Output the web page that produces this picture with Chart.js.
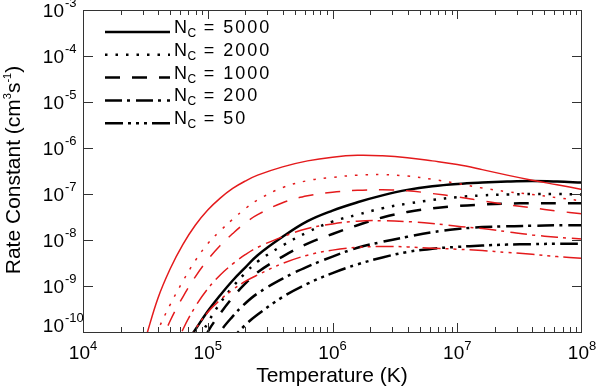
<!DOCTYPE html>
<html>
<head>
<meta charset="utf-8">
<script src="https://cdn.jsdelivr.net/npm/chart.js@4.4.1/dist/chart.umd.min.js"></script>
<style>
  html, body { margin: 0; padding: 0; background: #fff; }
  canvas { display: block; }
</style>
</head>
<body>
<canvas id="myChart" width="600" height="387"></canvas>
<script>
// log10 of temperature (K), shared grid for all curves
const logT = [4.4, 4.5, 4.6, 4.7, 4.8, 4.9, 5.0, 5.1, 5.2, 5.3, 5.4, 5.6, 5.8, 6.0, 6.2, 6.4, 6.6, 6.8, 7.0, 7.2, 7.4, 7.6, 7.8, 8.0];

// log10 of rate constant (cm^3 s^-1), black curves
const black5000 = [null, null, null, null, -10.35, -9.95, -9.55, -9.20, -8.88, -8.60, -8.33, -7.93, -7.59, -7.36, -7.18, -7.03, -6.91, -6.83, -6.78, -6.75, -6.73, -6.72, -6.73, -6.75];
const black2000 = [null, null, null, null, null, -10.3, -9.80, -9.37, -9.02, -8.72, -8.47, -8.12, -7.83, -7.60, -7.45, -7.31, -7.21, -7.13, -7.07, -7.03, -7.01, -7.00, -7.00, -7.01];
const black1000 = [null, null, null, null, null, -10.6, -10.0, -9.60, -9.25, -8.95, -8.70, -8.36, -8.08, -7.87, -7.68, -7.51, -7.39, -7.31, -7.26, -7.23, -7.21, -7.20, -7.20, -7.20];
const black200 = [null, null, null, null, null, null, -10.5, -10.0, -9.66, -9.38, -9.16, -8.84, -8.58, -8.36, -8.17, -8.04, -7.93, -7.83, -7.76, -7.72, -7.70, -7.69, -7.68, -7.68];
const black50 = [null, null, null, null, null, null, null, -10.6, -10.15, -9.85, -9.62, -9.24, -8.95, -8.72, -8.53, -8.38, -8.26, -8.19, -8.15, -8.12, -8.10, -8.09, -8.08, -8.08];

// red curves
const red5000 = [-11.0, -10.15, -9.27, -8.62, -8.10, -7.68, -7.35, -7.09, -6.88, -6.72, -6.59, -6.41, -6.28, -6.20, -6.16, -6.17, -6.21, -6.28, -6.36, -6.47, -6.59, -6.70, -6.80, -6.90];
const red2000 = [null, -10.7, -9.97, -9.40, -8.90, -8.45, -8.08, -7.80, -7.55, -7.32, -7.13, -6.86, -6.71, -6.64, -6.59, -6.58, -6.61, -6.68, -6.77, -6.87, -6.95, -7.01, -7.08, -7.15];
const red1000 = [null, null, -10.4, -9.75, -9.24, -8.80, -8.43, -8.12, -7.86, -7.63, -7.45, -7.19, -7.04, -6.96, -6.92, -6.91, -6.93, -6.99, -7.06, -7.15, -7.23, -7.30, -7.37, -7.43];
const red200 = [null, null, null, -10.6, -9.95, -9.45, -9.06, -8.76, -8.52, -8.32, -8.16, -7.93, -7.75, -7.65, -7.59, -7.58, -7.60, -7.64, -7.70, -7.75, -7.82, -7.89, -7.94, -7.98];
const red50 = [null, null, null, null, -10.5, -9.95, -9.57, -9.30, -9.08, -8.90, -8.76, -8.51, -8.33, -8.22, -8.16, -8.14, -8.15, -8.18, -8.20, -8.23, -8.27, -8.31, -8.36, -8.40];

const legendLabels = ['5000', '2000', '1000', '200', '50'];
const xTickExps = [4, 5, 6, 7, 8];
const yTickExps = [-3, -4, -5, -6, -7, -8, -9, -10];

const FONT = "'Liberation Sans', Arial, sans-serif";
const dashes = [[], [2.5, 8], [15, 12], [17, 5, 3, 6], [18, 5, 3, 5, 3, 5, 3, 5]];

function toPoints(vals) {
    return logT.map((t, i) => vals[i] == null ? null : { x: Math.pow(10, t), y: Math.pow(10, vals[i]) })
        .filter(p => p !== null);
}

function makeSet(vals, i, color, width) {
    return {
        data: toPoints(vals),
        borderColor: color,
        borderWidth: width,
        borderDash: dashes[i],
        borderCapStyle: 'butt',
        pointRadius: 0,
        fill: false,
        tension: 0.4
    };
}

const redSeries = [red5000, red2000, red1000, red200, red50];
const blackSeries = [black5000, black2000, black1000, black200, black50];

const datasets = [];
redSeries.forEach((s, i) => datasets.push(makeSet(s, i, '#e41a1c', 1.5)));
blackSeries.forEach((s, i) => datasets.push(makeSet(s, i, '#000', 2.5)));

// draw a row of text pieces (for super/subscripts)
function drawRuns(ctx, runs, x, y, align) {
    let w = 0;
    runs.forEach(r => {
        ctx.font = r.size + 'px ' + FONT;
        ctx.letterSpacing = (r.ls || 0) + 'px';
        r.w = ctx.measureText(r.t).width;
        w += r.w;
    });
    let cx = align === 'center' ? x - w / 2 : (align === 'right' ? x - w : x);
    ctx.textAlign = 'left';
    ctx.textBaseline = 'alphabetic';
    runs.forEach(r => {
        ctx.font = r.size + 'px ' + FONT;
        ctx.letterSpacing = (r.ls || 0) + 'px';
        ctx.fillText(r.t, cx, y + (r.dy || 0));
        cx += r.w;
    });
    ctx.letterSpacing = '0px';
}

const frame = {
    id: 'frame',
    afterDraw(chart) {
        const ctx = chart.ctx;
        const a = chart.chartArea;
        const xs = chart.scales.x, ys = chart.scales.y;
        ctx.save();
        ctx.strokeStyle = '#333';
        ctx.lineWidth = 1;
        ctx.strokeRect(a.left + 0.5, a.top + 0.5, a.right - a.left - 1, a.bottom - a.top);

        ctx.beginPath();
        // x ticks (major + minor) on bottom and top
        for (let e = 4; e < 8; e++) {
            for (let m = 1; m < 10; m++) {
                const px = Math.round(xs.getPixelForValue(m * Math.pow(10, e))) + 0.5;
                const len = m === 1 ? 9 : 5;
                ctx.moveTo(px, a.bottom); ctx.lineTo(px, a.bottom - len);
                ctx.moveTo(px, a.top); ctx.lineTo(px, a.top + len);
            }
        }
        // y major ticks on left and right
        yTickExps.forEach(e => {
            const py = Math.round(ys.getPixelForValue(Math.pow(10, e))) + 0.5;
            ctx.moveTo(a.left, py); ctx.lineTo(a.left + 10, py);
            ctx.moveTo(a.right, py); ctx.lineTo(a.right - 10, py);
        });
        ctx.stroke();

        ctx.fillStyle = '#000';
        // y tick labels
        yTickExps.forEach(e => {
            let py = ys.getPixelForValue(Math.pow(10, e)) + 7;
            if (py > a.bottom) py = a.bottom;
            drawRuns(ctx, [{ t: '10', size: 19 }], 64, py, 'right');
            drawRuns(ctx, [{ t: String(e), size: 13 }], 65, py - 10, 'left');
        });
        // x tick labels
        xTickExps.forEach(e => {
            const px = xs.getPixelForValue(Math.pow(10, e));
            drawRuns(ctx, [{ t: '10', size: 19 }, { t: String(e), size: 13, dy: -9 }], px, 359, 'center');
        });

        // axis titles
        drawRuns(ctx, [{ t: 'Temperature (K)', size: 21 }], 332, 382, 'center');
        ctx.save();
        ctx.translate(20, 170);
        ctx.rotate(-Math.PI / 2);
        drawRuns(ctx, [
            { t: 'Rate Constant (cm', size: 21 },
            { t: '3', size: 11, dy: -9 },
            { t: 's', size: 21 },
            { t: '-1', size: 11, dy: -9 },
            { t: ')', size: 21 }
        ], 0, 0, 'center');
        ctx.restore();

        // legend (black curves)
        legendLabels.forEach((lab, i) => {
            const by = 33 + i * 22.8;
            ctx.beginPath();
            ctx.strokeStyle = '#000';
            ctx.lineWidth = 2.5;
            ctx.lineCap = 'butt';
            ctx.setLineDash(dashes[i]);
            ctx.moveTo(105, by - 1);
            ctx.lineTo(170, by - 1);
            ctx.stroke();
            ctx.setLineDash([]);
            drawRuns(ctx, [
                { t: 'N', size: 18, ls: 0.5 },
                { t: 'C', size: 12, dy: 4, ls: 0.5 },
                { t: ' = ' + lab, size: 18, ls: 2 }
            ], 174, by, 'left');
        });
        ctx.restore();
    }
};

const myChart = new Chart(document.getElementById('myChart'), {
    type: 'line',
    data: { datasets: datasets },
    options: {
        responsive: false,
        animation: false,
        devicePixelRatio: 1,
        layout: { padding: { left: 83, right: 18, top: 10, bottom: 55 } },
        plugins: { legend: { display: false }, tooltip: { enabled: false } },
        scales: {
            x: {
                type: 'logarithmic', min: 1e4, max: 1e8,
                grid: { display: false }, border: { display: false },
                ticks: { display: false },
                afterFit: s => { s.height = 0; }
            },
            y: {
                type: 'logarithmic', min: 1e-10, max: 1e-3,
                grid: { display: false }, border: { display: false },
                ticks: { display: false },
                afterFit: s => { s.width = 0; }
            }
        }
    },
    plugins: [frame]
});
</script>
</body>
</html>
